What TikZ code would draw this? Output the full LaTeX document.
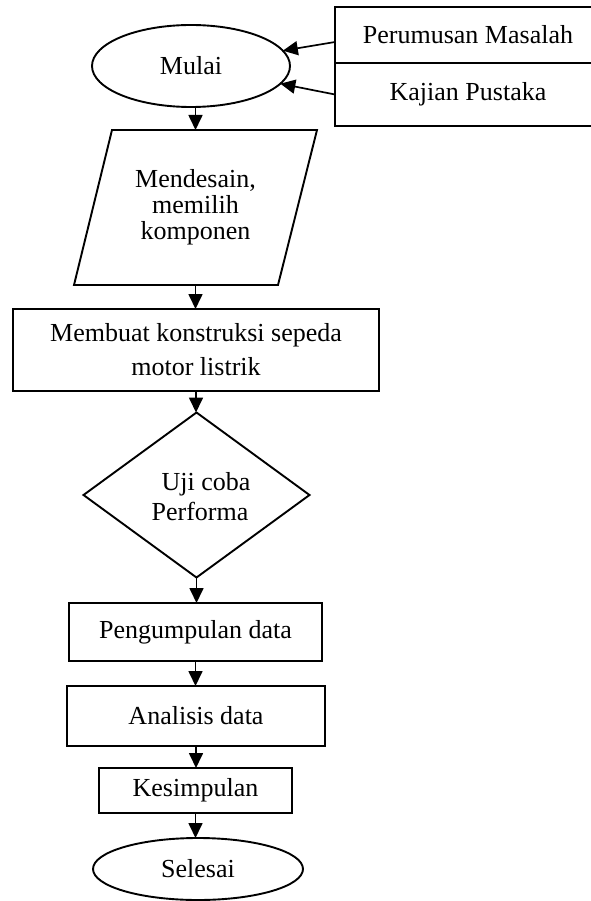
\documentclass[tikz,border=0pt]{standalone}
\usepackage{fontspec}
\setmainfont{Liberation Serif}
\usetikzlibrary{shapes.geometric,arrows.meta}
\begin{document}
\begin{tikzpicture}[x=1pt,y=-1pt,
  every node/.style={font=\fontsize{26}{26}\selectfont, inner sep=0pt, outer sep=0pt},
  shp/.style={draw, line width=1.9pt},
  box/.style={shp, rectangle},
  term/.style={shp, ellipse},
  arr/.style={line width=1.7pt, -{Triangle[length=15pt,width=14pt]}}]
\useasboundingbox (0,0) rectangle (590,901);
\node[term, minimum width=198pt, minimum height=82pt] (mulai) at (191,66) {Mulai};
\node[box, minimum width=266pt, minimum height=56pt] (pm) at (468,35) {Perumusan Masalah};
\node[box, minimum width=266pt, minimum height=63pt] (kp) at (468,94.5) {Kajian Pustaka};
\node[rectangle, minimum width=243pt, minimum height=155pt, align=center] (para) at (195.5,207.5) {Mendesain,\\memilih\\komponen};
\draw[line width=1.9pt, line join=miter] (para.south west) -- ([xshift=38pt]para.north west) -- (para.north east) -- ([xshift=-39pt]para.south east) -- cycle;
\node[box, minimum width=366pt, minimum height=82pt, align=center, font=\fontsize{26}{34}\selectfont] (build) at (196,350) {Membuat konstruksi sepeda\\motor listrik};
\node[shp, diamond, minimum width=226pt, minimum height=165pt] (uji) at (196.5,495) {};
\node[align=left, font=\fontsize{26}{30}\selectfont] (ujitext) at (201,497) {\hspace*{10pt}Uji coba\\Performa};
\node[box, minimum width=253pt, minimum height=58pt] (peng) at (195.5,632) {Pengumpulan data};
\node[box, minimum width=258pt, minimum height=60pt] (anal) at (196,716) {Analisis data};
\node[box, minimum width=193pt, minimum height=45pt] (kes) at (195.5,790.5) {Kesimpulan};
\node[term, minimum width=210pt, minimum height=62pt] (sel) at (198,869) {Selesai};
\draw[arr] ([yshift=-7pt]pm.west) -- (mulai);
\draw[arr] (kp.west) -- (mulai);
\draw[arr] (para.north |- mulai.south) -- (para.north);
\draw[arr] (para.south) -- (para.south |- build.north);
\draw[arr] (build.south) -- (build.south |- uji.north);
\draw[arr] (uji.south) -- (uji.south |- peng.north);
\draw[arr] (peng.south) -- (peng.south |- anal.north);
\draw[arr] (anal.south) -- (anal.south |- kes.north);
\draw[arr] (kes.south) -- (kes.south |- sel.north);
\end{tikzpicture}
\end{document}
